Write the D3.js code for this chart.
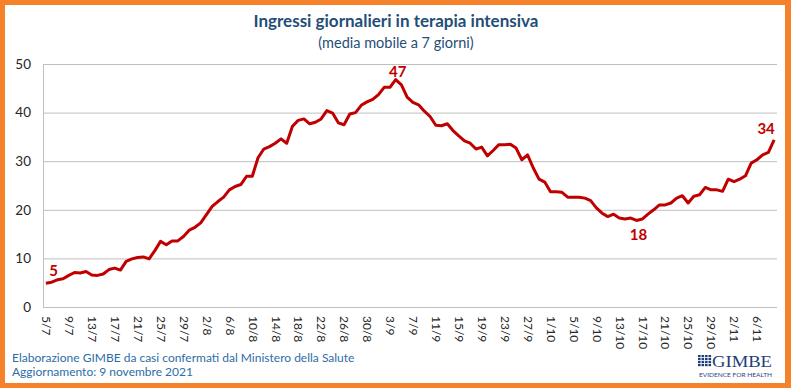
<!DOCTYPE html>
<html>
<head>
<meta charset="utf-8">
<script src="https://cdn.jsdelivr.net/npm/d3@7"></script>
<style>
body{margin:0;background:#fff;}
svg text{font-family:Lato,"Open Sans",sans-serif;}
</style>
</head>
<body>
<div id="graph"></div>
<script>
var width=791;
var height=388;

// media mobile a 7 giorni, dal 5/7/2021 al 9/11/2021
var startDate=new Date(2021,6,5);
var endDate=new Date(2021,10,10);
var values=[4.9,5.1,5.6,5.8,6.5,7.1,7.0,7.3,6.6,6.5,6.8,7.7,8.0,7.6,9.4,9.9,10.2,10.3,9.9,11.6,
	13.5,12.8,13.6,13.6,14.5,15.8,16.4,17.3,19.0,20.7,21.7,22.6,24.1,24.8,25.2,26.9,26.9,30.7,32.5,33.0,
	33.7,34.6,33.7,37.2,38.4,38.7,37.7,38.0,38.7,40.4,39.9,37.9,37.5,39.7,40.0,41.5,42.2,42.7,43.7,45.2,
	45.2,46.8,45.7,43.2,42.1,41.6,40.3,39.2,37.4,37.3,37.7,36.3,35.2,34.2,33.7,32.5,32.9,31.1,32.2,33.4,
	33.4,33.5,32.7,30.3,31.3,28.6,26.3,25.7,23.7,23.7,23.6,22.6,22.6,22.6,22.4,21.9,20.4,19.3,18.6,19.1,
	18.3,18.1,18.3,17.8,18.1,19.1,20.0,21.0,21.0,21.4,22.4,22.9,21.4,22.8,23.1,24.6,24.1,24.1,23.8,26.3,
	25.8,26.3,27.0,29.6,30.3,31.3,31.8,34.4];
var tickLabels=['5/7','9/7','13/7','17/7','21/7','25/7','29/7','2/8','6/8','10/8','14/8','18/8','22/8','26/8','30/8',
	'3/9','7/9','11/9','15/9','19/9','23/9','27/9','1/10','5/10','9/10','13/10','17/10','21/10','25/10','29/10','2/11','6/11'];
var yTicks=[0,10,20,30,40,50];
// etichette sui punti: indice e testo
var pointLabels=[{i:1,text:'5',pos:'above'},{i:61,text:'47',pos:'above'},{i:103,text:'18',pos:'below'},{i:127,text:'34',pos:'above'}];

var dates=d3.timeDay.range(startDate,endDate);
var fmt=d3.timeFormat('%-d/%-m');
var categories=dates.map(function(d){return fmt(d);});
var dataset=categories.map(function(c,i){return {cat:c,value:values[i]};});

var margin={left:43,right:14,top:64,bottom:81};
var svg=d3.select('#graph').append('svg').attr('width',width).attr('height',height);

// cornice arancione
svg.append('rect').attr('x',0).attr('y',0).attr('width',width).attr('height',height).attr('fill','#F5812A');
svg.append('rect').attr('x',5).attr('y',5).attr('width',780).attr('height',378).attr('fill','#fff');

var x=d3.scalePoint().domain(categories).range([margin.left,width-margin.right]).padding(0.5);
var y=d3.scaleLinear().domain([0,50]).range([height-margin.bottom,margin.top]);

svg.append('text').attr('x',396).attr('y',27).attr('text-anchor','middle')
	.style('font-size','17px').style('font-weight','bold').attr('fill','#1F4E79')
	.text('Ingressi giornalieri in terapia intensiva');
svg.append('text').attr('x',396).attr('y',48).attr('text-anchor','middle')
	.style('font-size','14.5px').attr('fill','#1F4E79')
	.text('(media mobile a 7 giorni)');

// griglia
var grid=svg.append('g').selectAll('line').data(yTicks).enter().append('line')
	.attr('x1',margin.left).attr('x2',width-margin.right)
	.attr('y1',function(d){return y(d)+0.5;}).attr('y2',function(d){return y(d)+0.5;})
	.attr('stroke','#BFBFBF').attr('stroke-width',1);
svg.append('line').attr('x1',margin.left+0.5).attr('x2',margin.left+0.5)
	.attr('y1',y(50)).attr('y2',y(0)).attr('stroke','#BFBFBF');

var yAxis=d3.axisLeft(y).tickValues(yTicks).tickSize(0).tickPadding(12);
var gy=svg.append('g').attr('transform','translate('+margin.left+',0)').call(yAxis);
gy.select('.domain').remove();
gy.selectAll('text').style('font-size','13.5px').attr('fill','#262626');

var xAxis=d3.axisBottom(x).tickValues(tickLabels).tickSize(0).tickPadding(0);
var gx=svg.append('g').attr('transform','translate(0,'+(height-margin.bottom)+')').call(xAxis);
gx.select('.domain').remove();
gx.selectAll('text').attr('transform','rotate(90)').attr('text-anchor','start')
	.attr('x',9).attr('y',0).attr('dy','0.35em')
	.style('font-size','12px').attr('fill','#262626');

var line=d3.line().x(function(d){return x(d.cat);}).y(function(d){return y(d.value);});
svg.append('path').datum(dataset).attr('d',line).attr('fill','none')
	.attr('stroke','#C00000').attr('stroke-width',3).attr('stroke-linejoin','round');

svg.selectAll('.plabel').data(pointLabels).enter().append('text').attr('class','plabel')
	.attr('x',function(d){return x(categories[d.i])+(d.i==127?-8:2);})
	.attr('y',function(d){return d.pos=='above'?y(values[d.i])-(d.i==61?3:6):y(values[d.i])+20;})
	.attr('text-anchor','middle').style('font-size','15px').style('font-weight','bold')
	.attr('fill','#C00000').text(function(d){return d.text;});

svg.append('text').attr('x',12).attr('y',362).style('font-size','12px').attr('fill','#2E6DA4')
	.text('Elaborazione GIMBE da casi confermati dal Ministero della Salute');
svg.append('text').attr('x',12).attr('y',376).style('font-size','12px').attr('fill','#2E6DA4')
	.text('Aggiornamento: 9 novembre 2021');

// logo GIMBE
var logo=svg.append('g').attr('transform','translate(698,355)');
for(var r=0;r<4;r++){
	for(var c=0;c<4;c++){
		logo.append('rect').attr('x',c*3.5).attr('y',r*3).attr('width',2.6).attr('height',2.2).attr('fill','#1F3F7A');
	}
}
logo.append('text').attr('x',14).attr('y',12).style('font-family','"Liberation Serif",serif')
	.style('font-size','16px').attr('textLength',60).attr('lengthAdjust','spacingAndGlyphs')
	.attr('fill','#1F3F7A').text('GIMBE');
logo.append('text').attr('x',1).attr('y',22).style('font-size','5.5px').attr('textLength',73)
	.attr('lengthAdjust','spacingAndGlyphs').attr('fill','#1F3F7A').text('EVIDENCE FOR HEALTH');
</script>
</body>
</html>
